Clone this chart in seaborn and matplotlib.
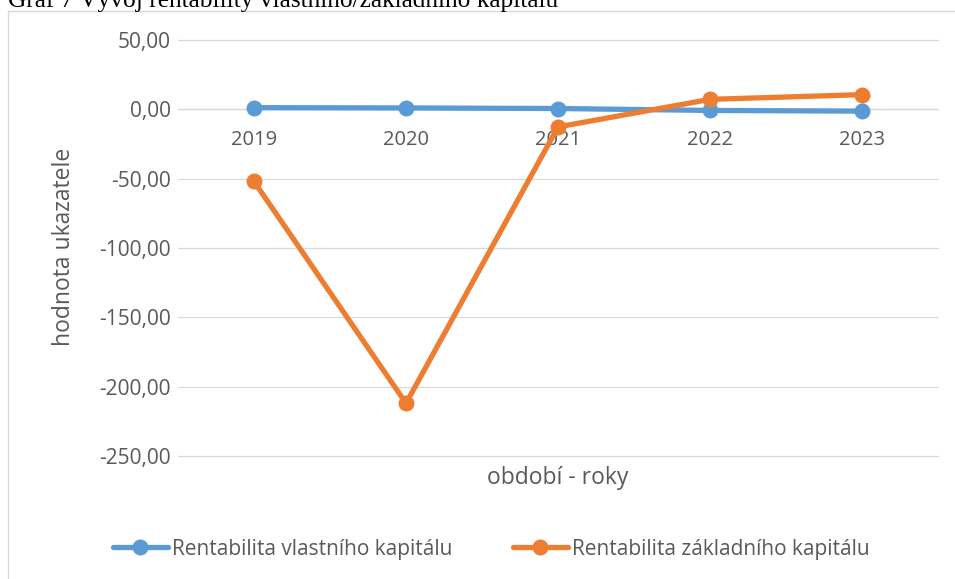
import matplotlib
matplotlib.use("Agg")
import matplotlib.pyplot as plt
import seaborn as sns
import pandas as pd
from matplotlib.patches import Rectangle
from matplotlib.lines import Line2D
from matplotlib.ticker import FuncFormatter

# data
years = ["2019", "2020", "2021", "2022", "2023"]
rentabilita_vk = [1.2, 1.0, 0.6, -0.8, -1.3]
rentabilita_zk = [-52.0, -212.0, -12.7, 7.2, 10.6]
series_names = ["Rentabilita vlastního kapitálu", "Rentabilita základního kapitálu"]
y_ticks = [50, 0, -50, -100, -150, -200, -250]

title = "Graf 7 Vývoj rentability vlastního/základního kapitálu"
x_title = "období - roky"
y_title = "hodnota ukazatele"

blue = "#5B9BD5"
orange = "#ED7D31"
grid_col = "#D9D9D9"
text_col = "#595959"

sns.set_theme(style="white")
plt.rcParams["font.family"] = ["Open Sans", "DejaVu Sans"]

W, H = 955, 579
fig = plt.figure(figsize=(W / 100, H / 100), dpi=100)
ax = fig.add_axes([178 / W, 1 - 456 / H, 760 / W, 416 / H])

# one call per series so both get the same thick line on top of the grid
for name, vals, col in zip(series_names, [rentabilita_vk, rentabilita_zk], [blue, orange]):
    sns.lineplot(x=years, y=vals, color=col, marker="o", markersize=11.5,
                 markeredgewidth=0, linewidth=3.8, sort=False, ax=ax, zorder=3)

ax.set_xlim(-0.5, len(years) - 0.5)
ax.set_ylim(-250, 50)
ax.set_yticks(y_ticks)
ax.yaxis.set_major_formatter(FuncFormatter(lambda v, _: f"{v:.2f}".replace(".", ",")))
ax.yaxis.grid(True, color=grid_col, linewidth=0.9)
ax.xaxis.grid(False)
ax.set_axisbelow(True)
for gl in ax.get_ygridlines():
    gl.set_clip_on(False)

for s in ["top", "right", "left"]:
    ax.spines[s].set_visible(False)
ax.spines["bottom"].set_position(("data", 0))
ax.spines["bottom"].set_color(grid_col)
ax.spines["bottom"].set_linewidth(0.9)
ax.spines["bottom"].set_zorder(1)

ax.tick_params(axis="both", length=0, labelcolor=text_col)
ax.tick_params(axis="x", pad=15, labelsize=14.5)
ax.tick_params(axis="y", pad=5, labelsize=15)
ax.set_xlabel("")
ax.set_ylabel("")

fig.text(558 / W, 1 - 478 / H, x_title, ha="center", va="center", fontsize=16.5, color=text_col)
fig.text(64 / W, 1 - 247 / H, y_title, ha="center", va="center", rotation=90,
         fontsize=16.5, color=text_col)

fig.text(8 / W, 1 - 7 / H, title, ha="left", va="baseline", fontsize=18.3,
         family="Liberation Serif", color="black")

fig.add_artist(Rectangle((8 / W, -0.5), 2, (1 - 11 / H) + 0.5, transform=fig.transFigure,
                         fill=False, edgecolor=grid_col, linewidth=1))

handles = [Line2D([], [], color=c, linewidth=3.8, marker="o", markersize=11.5,
                  markeredgewidth=0) for c in [blue, orange]]
fig.legend(handles, series_names, loc="center", bbox_to_anchor=(491 / W, 1 - 549 / H),
           ncol=2, frameon=False, fontsize=15, labelcolor=text_col,
           handlelength=2.64, handletextpad=0.2, columnspacing=2.9)

fig.savefig("out.png", dpi=100)
